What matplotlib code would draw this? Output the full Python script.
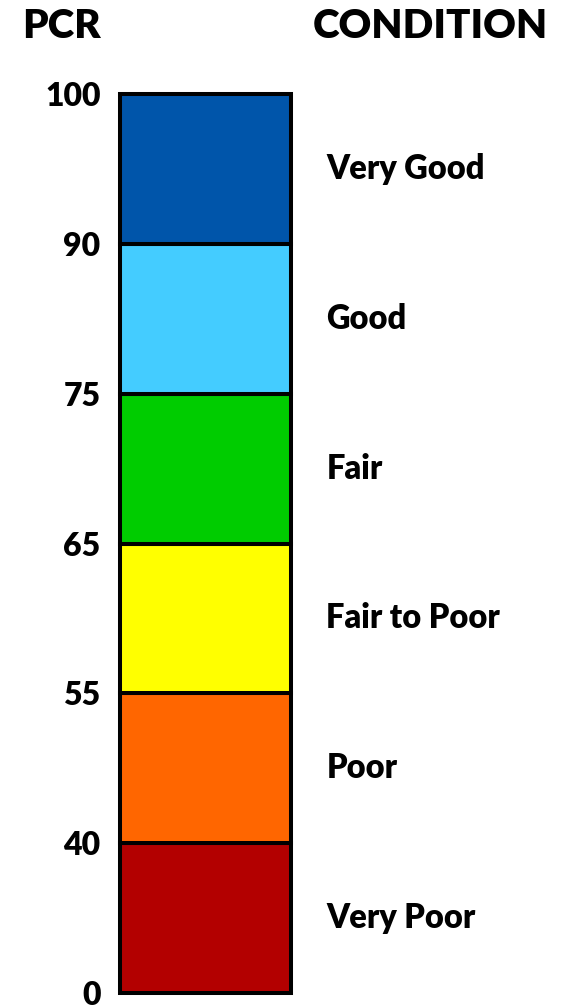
import matplotlib
matplotlib.use("Agg")
import matplotlib.pyplot as plt

# PCR thresholds (bottom to top) and condition bands
pcr_ticks = [0, 40, 55, 65, 75, 90, 100]
conditions = ["Very Poor", "Poor", "Fair to Poor", "Fair", "Good", "Very Good"]
band_colors = ["#B30000", "#FF6600", "#FFFF00", "#00CC00", "#44CCFF", "#0055AA"]

plt.rcParams['font.family'] = ['Lato', 'DejaVu Sans']

fig = plt.figure(figsize=(5.72, 10.06), dpi=100)
ax = fig.add_axes([0.2098, 0.0129, 0.299, 0.8936])

# each band drawn with the same height, labelled by its threshold
for i, (cond, col) in enumerate(zip(conditions, band_colors)):
    ax.bar(0, 1, bottom=i, width=1, color=col, edgecolor='black',
           linewidth=2.9, clip_on=False)
    ax.annotate(cond, xy=(0.5, i + 0.5), xytext=(25.5, 0),
                textcoords='offset points', va='center', ha='left',
                fontsize=23.5, fontweight='heavy')

ax.set_xlim(-0.5, 0.5)
ax.set_ylim(0, len(conditions))
ax.set_yticks(range(len(pcr_ticks)))
ax.set_yticklabels([str(v) for v in pcr_ticks], fontsize=23, fontweight='heavy')
ax.tick_params(axis='y', length=0, pad=14)
ax.set_xticks([])
for s in ax.spines.values():
    s.set_visible(False)

fig.text(61 / 572, 1 - 27 / 1006, "PCR", ha='center', va='center',
         fontsize=29, fontweight='heavy')
fig.text(430 / 572, 1 - 27 / 1006, "CONDITION", ha='center', va='center',
         fontsize=29, fontweight='heavy')

fig.savefig("out.png", dpi=100)
